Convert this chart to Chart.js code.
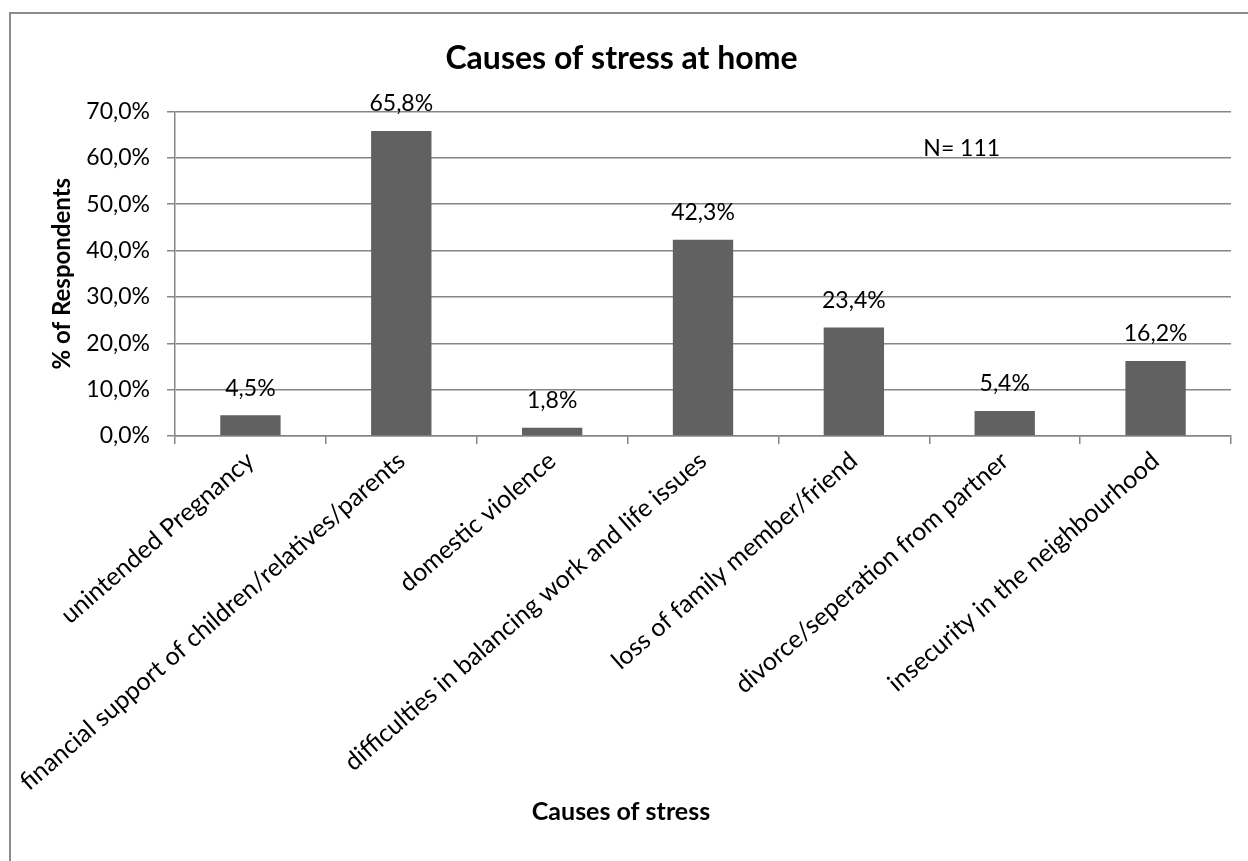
<!DOCTYPE html>
<html>
<head>
<meta charset="utf-8">
<title>Causes of stress at home</title>
<script src="https://cdn.jsdelivr.net/npm/chart.js@4/dist/chart.umd.min.js"></script>
<style>
  html, body { margin: 0; padding: 0; background: #fff; }
  #wrap { position: relative; width: 1248px; height: 861px; }
</style>
</head>
<body>
<div id="wrap"><canvas id="stressChart" width="1248" height="861"></canvas></div>
<script>
// Survey results: share of respondents naming each cause of stress at home
const causes = [
  'unintended Pregnancy',
  'financial support of children/relatives/parents',
  'domestic violence',
  'difficulties in balancing work and life issues',
  'loss of family member/friend',
  'divorce/seperation from partner',
  'insecurity in the neighbourhood'
];
const shares = [4.5, 65.8, 1.8, 42.3, 23.4, 5.4, 16.2];
const yTicks = [0, 10, 20, 30, 40, 50, 60, 70];
const sampleNote = 'N= 111';

const FONT = 'Lato, "Open Sans", sans-serif';
const GRID = '#868686';

function pct(v) {
  return v.toFixed(1).replace('.', ',') + '%';
}

// frame, value labels, sample size and x axis title
const extras = {
  id: 'extras',
  beforeDraw(chart) {
    const ctx = chart.ctx;
    ctx.save();
    ctx.fillStyle = '#fff';
    ctx.fillRect(0, 0, chart.width, chart.height);
    ctx.strokeStyle = '#8c8c8c';
    ctx.lineWidth = 2;
    ctx.strokeRect(10, 13, chart.width + 20, chart.height + 20);
    ctx.restore();
  },
  afterDatasetsDraw(chart) {
    const ctx = chart.ctx;
    const area = chart.chartArea;
    const y = chart.scales.y;
    ctx.save();
    ctx.fillStyle = '#000';
    ctx.textAlign = 'center';
    ctx.textBaseline = 'middle';
    ctx.font = '23px ' + FONT;
    chart.getDatasetMeta(0).data.forEach((bar, i) => {
      ctx.fillText(pct(shares[i]), bar.x, bar.y - 27);
    });
    ctx.fillText(sampleNote, area.left + (area.right - area.left) * 0.745, y.getPixelForValue(62.0));
    ctx.font = 'bold 25px ' + FONT;
    ctx.fillText('Causes of stress', chart.width / 2 - 3, 812);
    ctx.restore();
  }
};

new Chart(document.getElementById('stressChart'), {
  type: 'bar',
  data: {
    labels: causes,
    datasets: [{
      data: shares,
      backgroundColor: '#616161',
      borderWidth: 0,
      barPercentage: 0.4,
      categoryPercentage: 1
    }]
  },
  options: {
    responsive: false,
    animation: false,
    layout: { padding: { left: 12, right: 17, top: 0, bottom: 0 } },
    plugins: {
      legend: { display: false },
      tooltip: { enabled: false },
      title: {
        display: true,
        text: 'Causes of stress at home',
        color: '#000',
        font: { family: FONT, size: 32, weight: 'bold' },
        padding: { top: 39, bottom: 34 }
      }
    },
    scales: {
      x: {
        grid: { offset: true, drawOnChartArea: false, color: GRID, lineWidth: 1.5, tickLength: 8 },
        border: { display: true, color: GRID, width: 1.5 },
        ticks: {
          autoSkip: false,
          minRotation: 41,
          maxRotation: 41,
          padding: 2,
          color: '#000',
          font: { family: FONT, size: 25 }
        },
        afterFit(scale) {
          scale.height = 425;
          scale.paddingLeft = 0;
          scale.paddingRight = 0;
        }
      },
      y: {
        min: 0,
        max: 70,
        afterBuildTicks(scale) {
          scale.ticks = yTicks.map(v => ({ value: v }));
        },
        grid: { color: GRID, lineWidth: 1.5, tickLength: 8 },
        border: { display: true, color: GRID, width: 1.5 },
        ticks: {
          padding: 17,
          color: '#000',
          font: { family: FONT, size: 23 },
          callback: v => pct(v)
        },
        title: {
          display: true,
          text: '% of Respondents',
          color: '#000',
          font: { family: FONT, size: 24, weight: 'bold' },
          padding: { top: 36 }
        },
        afterFit(scale) {
          scale.width = 163;
        }
      }
    }
  },
  plugins: [extras]
});
</script>
</body>
</html>
